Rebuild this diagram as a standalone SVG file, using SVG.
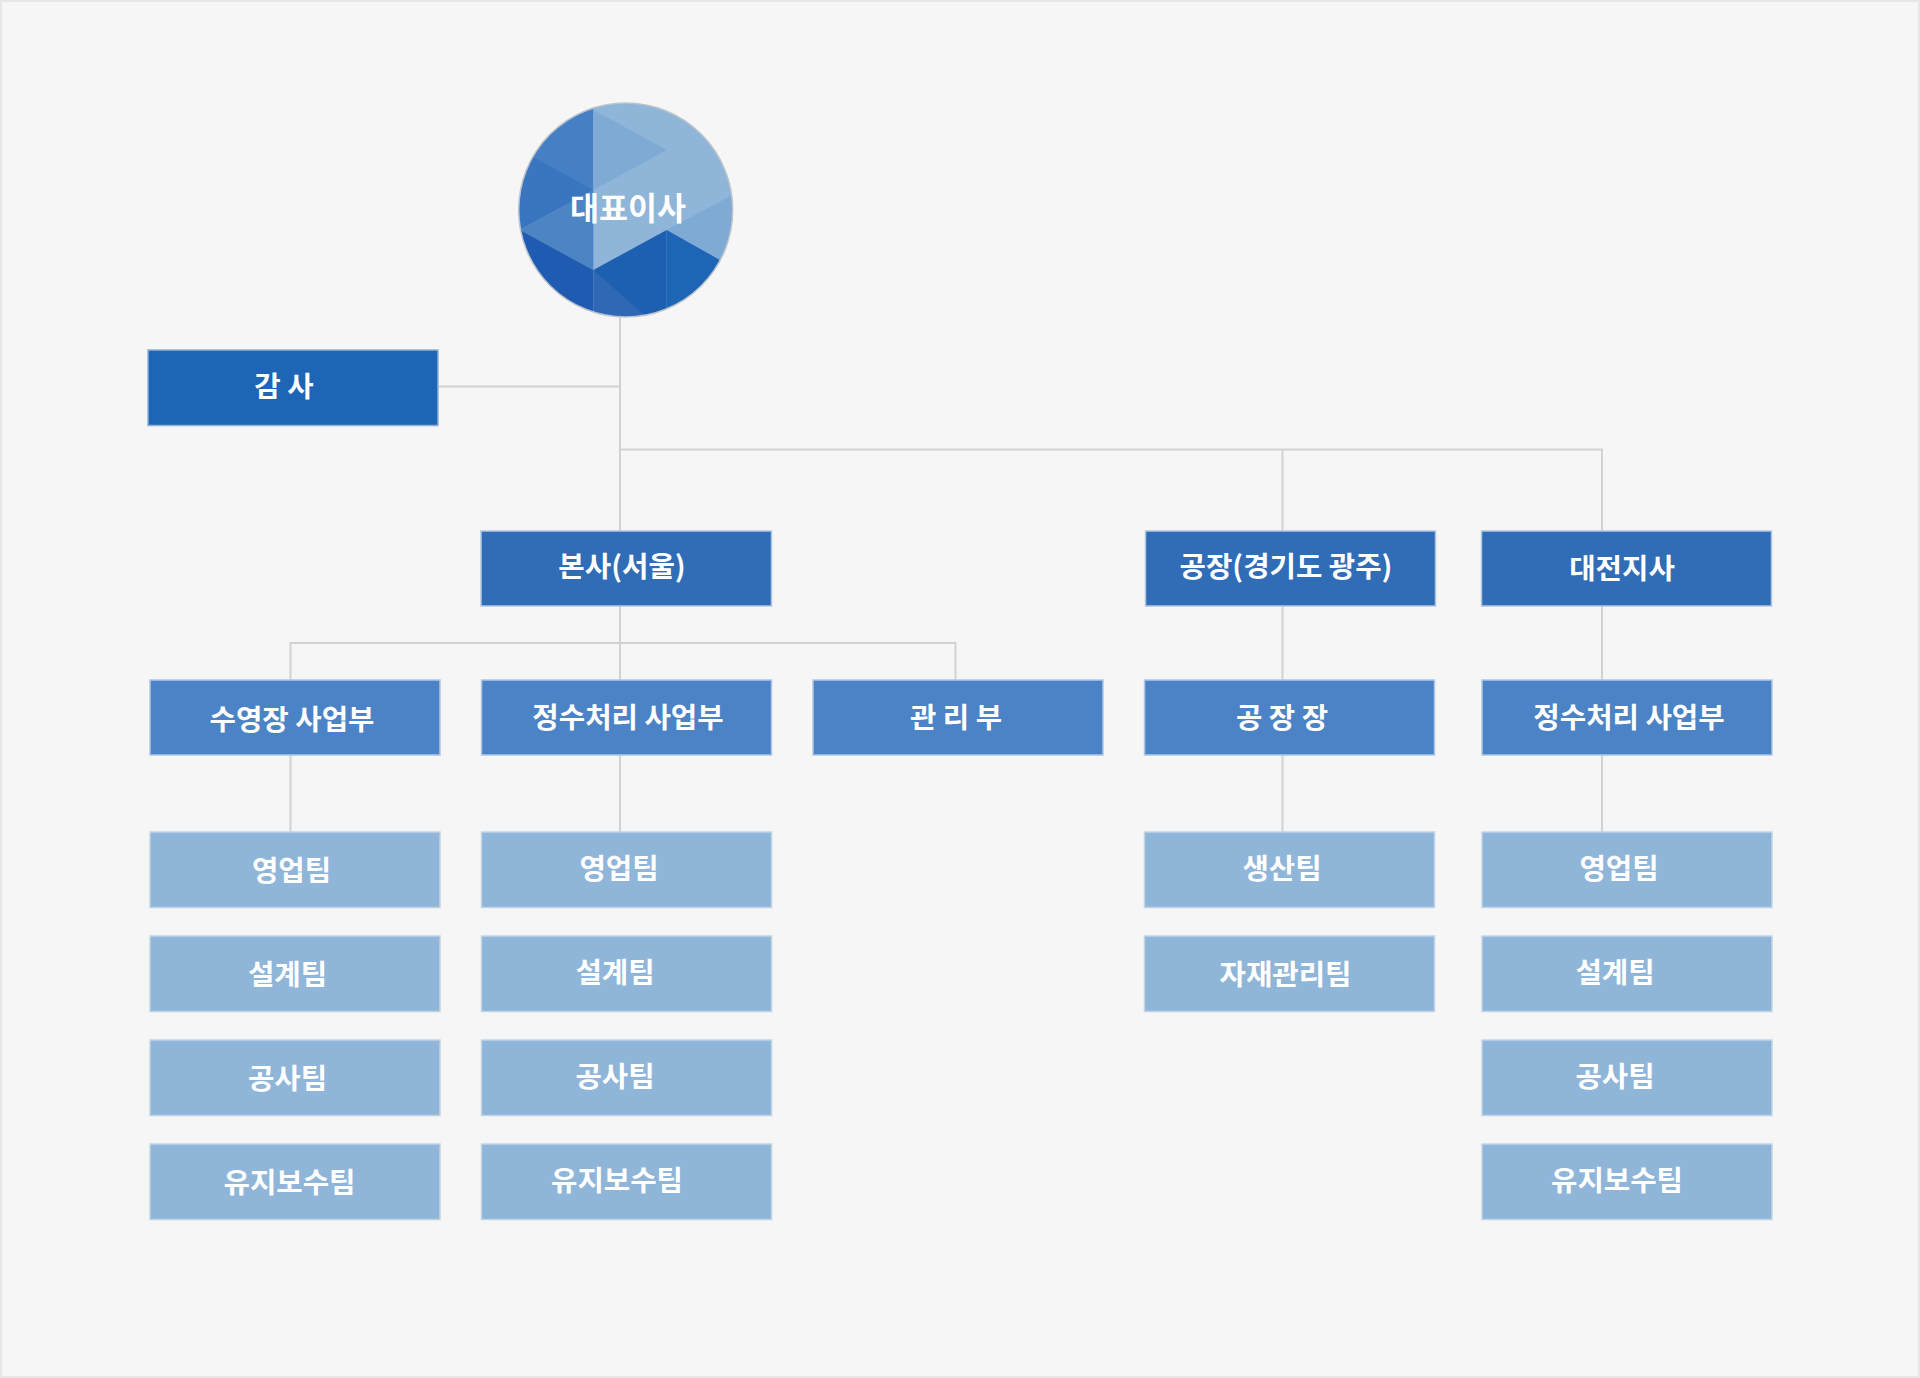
<svg xmlns="http://www.w3.org/2000/svg" width="1920" height="1378" viewBox="0 0 1920 1378">
<style>
.b{stroke-width:1.5}
.l1{fill:#1e65b5;stroke:#8fb0d8}
.l2{fill:#316cb7;stroke:#b0c7e2}
.l3{fill:#4c83c6;stroke:#b0c7e2}
.l4{fill:#8fb5d9;stroke:#c2d3e5}
text{font-family:"Noto Sans CJK KR","Noto Sans",sans-serif;font-size:28.700px;font-weight:700;fill:#fff;text-anchor:middle}
#connectors path{fill:none;stroke:#d2d2d2;stroke-width:2}
</style>
<defs><clipPath id="c"><circle cx="625.700" cy="210" r="107"/></clipPath></defs>
<rect x="1" y="1" width="1918" height="1376" fill="#f6f6f6" stroke="#e6e6e6" stroke-width="2"/>
<g id="connectors">
<path d="M620 316V531M438 386.500H620M620 449.500H1602V531M1282.500 449.500V531"/>
<path d="M620 606V680M290.500 680V643H955.500V680"/>
<path d="M1282.500 606V680M1602 606V680"/>
<path d="M290.500 755V832M620 755V832M1282.500 755V832M1602 755V832"/>
</g>
<g id="ceo">
<g clip-path="url(#c)">
<rect x="515" y="100" width="225" height="220" fill="#8fb5d9"/>
<polygon points="593.300,100 593.300,190 500,240 500,100" fill="#457fc4"/>
<polygon points="533,157 593.300,190 520,230 510,200" fill="#3a75c0"/>
<polygon points="520,230 593.300,190 593.300,270" fill="#4d84c3"/>
<polygon points="593.300,110 666.700,150 593.300,190" fill="#7faad4"/>
<polygon points="740,191 666.700,230 720,260 740,260" fill="#7faad4"/>
<polygon points="510,225 520,230 593.300,270 593.300,320 510,320" fill="#1f5bb1"/>
<polygon points="593.300,270 663.300,310 640,320 593.300,320" fill="#2f69b6"/>
<polygon points="593.300,270 666.700,230 666.700,310 650,320" fill="#1d60b2"/>
<polygon points="666.700,230 720,260 700,320 666.700,320" fill="#1e65b6"/>
</g>
<circle cx="625.700" cy="210" r="107" fill="none" stroke="#bcc4cc" stroke-width="1.500"/>
<text x="628" y="220" style="font-size:31.500px">대표이사</text>
</g>
<g id="audit"><rect class="b l1" x="148" y="350" width="290" height="75.500"/><text x="284" y="397">감 사</text></g>
<g id="hq"><rect class="b l2" x="481" y="531" width="290.500" height="75"/><text x="622" y="577">본사(서울)</text></g>
<g id="factory"><rect class="b l2" x="1145.500" y="531" width="290" height="75"/><text x="1286" y="577">공장(경기도 광주)</text></g>
<g id="daejeon"><rect class="b l2" x="1481.500" y="531" width="290" height="75"/><text x="1622" y="579">대전지사</text></g>
<g id="d1"><rect class="b l3" x="150" y="680" width="290" height="75"/><text x="292" y="730">수영장 사업부</text></g>
<g id="d2"><rect class="b l3" x="481.500" y="680" width="290" height="75"/><text x="628" y="728">정수처리 사업부</text></g>
<g id="d3"><rect class="b l3" x="813" y="680" width="290" height="75"/><text x="956" y="728">관 리 부</text></g>
<g id="d4"><rect class="b l3" x="1144.500" y="680" width="290" height="75"/><text x="1282" y="728">공 장 장</text></g>
<g id="d5"><rect class="b l3" x="1482" y="680" width="290" height="75"/><text x="1629" y="728">정수처리 사업부</text></g>
<g id="t11"><rect class="b l4" x="150" y="832" width="290" height="75.500"/><text x="291.500" y="880.500">영업팀</text></g>
<g id="t12"><rect class="b l4" x="150" y="936" width="290" height="75.500"/><text x="287.500" y="984.500">설계팀</text></g>
<g id="t13"><rect class="b l4" x="150" y="1040" width="290" height="75.500"/><text x="287.500" y="1088.500">공사팀</text></g>
<g id="t14"><rect class="b l4" x="150" y="1144" width="290" height="75.500"/><text x="289.500" y="1192.500">유지보수팀</text></g>
<g id="t21"><rect class="b l4" x="481.500" y="832" width="290" height="75.500"/><text x="619" y="878.500">영업팀</text></g>
<g id="t22"><rect class="b l4" x="481.500" y="936" width="290" height="75.500"/><text x="615" y="982.500">설계팀</text></g>
<g id="t23"><rect class="b l4" x="481.500" y="1040" width="290" height="75.500"/><text x="615" y="1086.500">공사팀</text></g>
<g id="t24"><rect class="b l4" x="481.500" y="1144" width="290" height="75.500"/><text x="617" y="1190.500">유지보수팀</text></g>
<g id="t41"><rect class="b l4" x="1144.500" y="832" width="290" height="75.500"/><text x="1282" y="878.500">생산팀</text></g>
<g id="t42"><rect class="b l4" x="1144.500" y="936" width="290" height="75.500"/><text x="1285.500" y="984.500">자재관리팀</text></g>
<g id="t51"><rect class="b l4" x="1482" y="832" width="290" height="75.500"/><text x="1619" y="878.500">영업팀</text></g>
<g id="t52"><rect class="b l4" x="1482" y="936" width="290" height="75.500"/><text x="1615" y="982.500">설계팀</text></g>
<g id="t53"><rect class="b l4" x="1482" y="1040" width="290" height="75.500"/><text x="1615" y="1086.500">공사팀</text></g>
<g id="t54"><rect class="b l4" x="1482" y="1144" width="290" height="75.500"/><text x="1617" y="1190.500">유지보수팀</text></g>
</svg>
